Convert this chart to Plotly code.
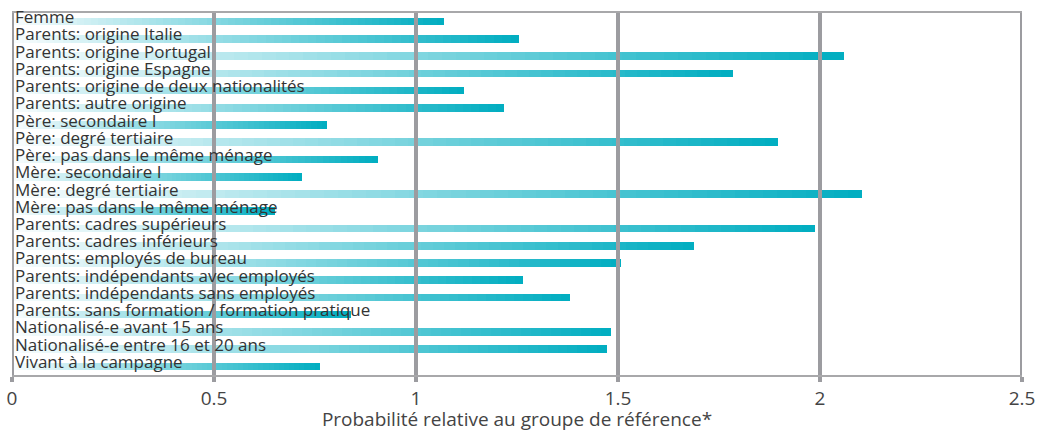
import plotly.graph_objects as go

categories = [
    "Femme",
    "Parents: origine Italie",
    "Parents: origine Portugal",
    "Parents: origine Espagne",
    "Parents: origine de deux nationalités",
    "Parents: autre origine",
    "Père: secondaire I",
    "Père: degré tertiaire",
    "Père: pas dans le même ménage",
    "Mère: secondaire I",
    "Mère: degré tertiaire",
    "Mère: pas dans le même ménage",
    "Parents: cadres supérieurs",
    "Parents: cadres inférieurs",
    "Parents: employés de bureau",
    "Parents: indépendants avec employés",
    "Parents: indépendants sans employés",
    "Parents: sans formation / formation pratique",
    "Nationalisé-e avant 15 ans",
    "Nationalisé-e entre 16 et 20 ans",
    "Vivant à la campagne",
]
values = [1.07, 1.255, 2.06, 1.785, 1.12, 1.218, 0.78, 1.895, 0.905, 0.718,
          2.105, 0.651, 1.988, 1.688, 1.507, 1.265, 1.381, 0.839, 1.483,
          1.473, 0.762]
tick_vals = [0, 0.5, 1, 1.5, 2, 2.5]
tick_text = ["0", "0.5", "1", "1.5", "2", "2.5"]

# gradient: each bar split into segments, white -> teal
N_SEG = 60
start_rgb = (250, 253, 254)
end_rgb = (0, 173, 192)
grid_col = "#9c9ca0"
font_fam = "Open Sans"

fig = go.Figure()
for k in range(N_SEG):
    t = (k + 0.5) / N_SEG
    r, g, b = [round(s + (e - s) * t) for s, e in zip(start_rgb, end_rgb)]
    fig.add_trace(go.Bar(
        y=categories,
        x=[v / N_SEG for v in values],
        base=[v * k / N_SEG for v in values],
        orientation="h",
        width=0.44,
        marker=dict(color=f"rgb({r},{g},{b})", line=dict(width=0)),
        showlegend=False,
        hoverinfo="skip",
    ))

# vertical grid lines drawn over the bars
for tv in tick_vals:
    fig.add_shape(type="line", xref="x", yref="paper", x0=tv, x1=tv, y0=0, y1=1,
                  line=dict(color=grid_col, width=4), layer="above")

for cat in categories:
    fig.add_annotation(x=0, y=cat, xref="x", yref="y", text=cat, showarrow=False,
                       xanchor="left", xshift=1, yshift=5,
                       font=dict(family=font_fam, size=17, color="#333333"))

fig.update_layout(
    width=1040, height=432,
    margin=dict(l=12, r=18, t=13, b=57),
    plot_bgcolor="white", paper_bgcolor="white",
    barmode="overlay", bargap=0,
    font=dict(family=font_fam, color="#444444"),
)
fig.update_xaxes(
    range=[0, 2.5], tickvals=tick_vals, ticktext=tick_text,
    showgrid=False, zeroline=False, automargin=False,
    showline=True, linecolor="#a8a8aa", linewidth=2, mirror=True,
    ticks="outside", ticklen=5, tickwidth=4, tickcolor=grid_col,
    tickfont=dict(size=19, color="#444444"),
    title=dict(text="Probabilité relative au groupe de référence*",
               font=dict(size=19, color="#444444"), standoff=7),
)
fig.update_yaxes(
    showticklabels=False, showgrid=False, automargin=False,
    zeroline=False, range=[20.5, -0.5],
)

# drop the page's default body margin so the figure sits at the window corner
fig.write_html("out.html", config={"displayModeBar": False},
               post_script="document.body.style.margin='0';")
